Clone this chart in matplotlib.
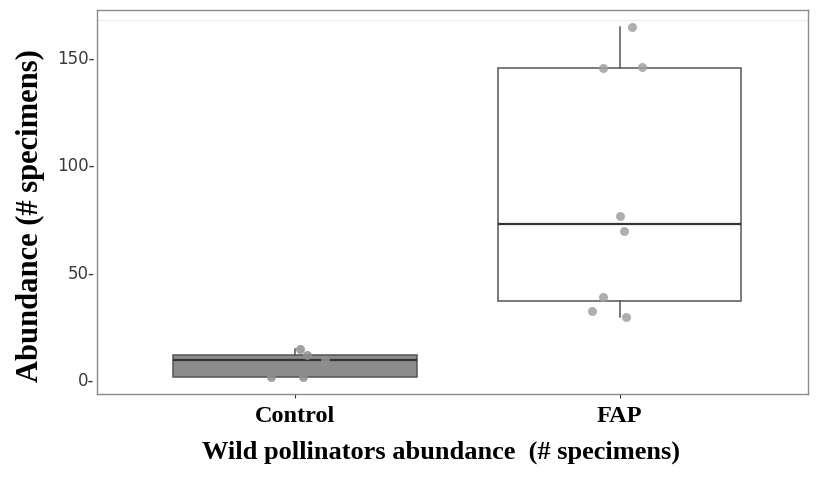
import matplotlib.pyplot as plt
import numpy as np

groups = ['Control', 'FAP']
control_vals = [14, 11, 9, 1, 1]
control_jit = [0.015, 0.037, 0.092, -0.074, 0.025]
fap_vals = [164, 145, 145.5, 75.9, 68.9, 38.2, 31.7, 28.9]
fap_jit = [0.037, -0.052, 0.068, 0.0, 0.012, -0.052, -0.086, 0.018]
yticks = [0, 50, 100, 150]

fig = plt.figure(figsize=(8.24, 4.78), dpi=100)
ax = fig.add_axes([97/824, 84/478, 711/824, 384/478])

bp = ax.boxplot([control_vals, fap_vals], positions=[1, 2], widths=0.75,
                patch_artist=True, showcaps=False, showfliers=False,
                medianprops=dict(color='#333333', lw=1.6),
                whiskerprops=dict(color='#555555', lw=1.1),
                boxprops=dict(edgecolor='#555555', lw=1.1))
bp['boxes'][0].set_facecolor('#8c8c8c')
bp['boxes'][1].set_facecolor('white')

ax.scatter(1 + np.array(control_jit), control_vals, s=42, color='#8f8f8f', alpha=0.85, zorder=3, lw=0)
ax.scatter(2 + np.array(fap_jit), fap_vals, s=42, color='#a0a0a0', alpha=0.85, zorder=3, lw=0)

ax.set_xlim(0.39, 2.58)
ax.set_ylim(-7, 172)
ax.axhline(167.5, color='#ececec', lw=0.8, zorder=0)
ax.set_xticks([1, 2])
ax.set_xticklabels(groups, fontfamily='Liberation Serif', fontweight='bold', fontsize=17.5)
ax.set_yticks(yticks)
ax.set_yticklabels([f'{v}-' for v in yticks], fontsize=12, color='#3a3a3a')
ax.tick_params(axis='y', length=0, pad=2)
ax.tick_params(axis='x', length=3, color='#333333', pad=6)
for s in ax.spines.values():
    s.set_color('#8a8a8a')
    s.set_linewidth(1.0)

ax.set_xlabel('Wild pollinators abundance  (# specimens)', fontfamily='Liberation Serif',
              fontweight='bold', fontsize=19)
ax.set_ylabel('Abundance (# specimens)', fontfamily='Liberation Serif',
              fontweight='bold', fontsize=22)
ax.xaxis.set_label_coords(0.484, -0.12)
ax.yaxis.set_label_coords(-0.073, 0.464)

fig.savefig('out.png', dpi=100)
